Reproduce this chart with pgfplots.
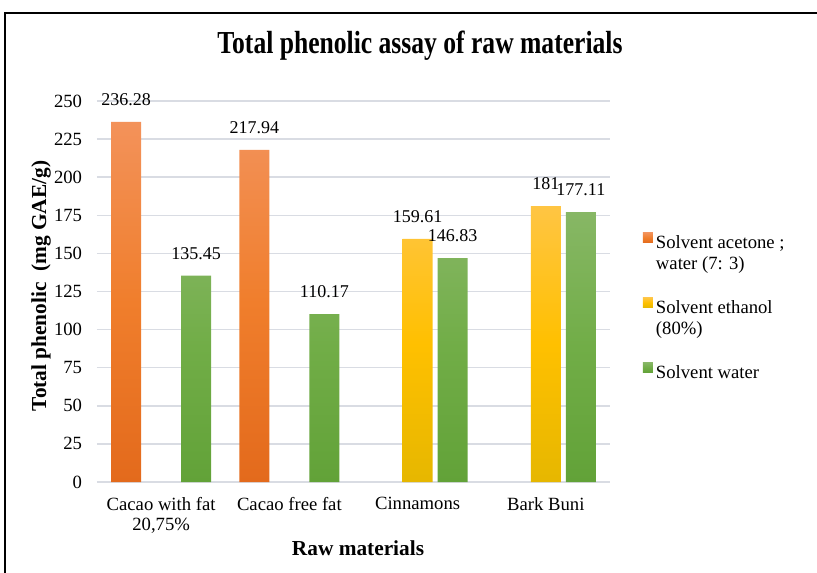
\documentclass[border=0pt]{standalone}
\usepackage{pgfplots}
\pgfplotsset{compat=1.18}
\usepackage{fontspec}
\setmainfont{Liberation Serif}
\newfontfamily\titlefont[FakeStretch=0.8]{Liberation Serif}
\definecolor{gridc}{HTML}{D9DCE3}
\definecolor{oTop}{HTML}{F3925A}
\definecolor{oMid}{HTML}{F07E2C}
\definecolor{oBot}{HTML}{E36A1C}
\definecolor{yTop}{HTML}{FFC543}
\definecolor{yMid}{HTML}{FFC000}
\definecolor{yBot}{HTML}{E6B700}
\definecolor{gTop}{HTML}{87B765}
\definecolor{gMid}{HTML}{71AD47}
\definecolor{gBot}{HTML}{62A238}
\begin{document}
\begin{tikzpicture}[x=1pt,y=1pt]
\useasboundingbox (-72.75,-67.5) rectangle (540,361.5);
\draw[line width=1.6pt] (-69,-120) rectangle (620,351.75);
\begin{axis}[
  at={(0,0)}, anchor=south west,
  width=384.75pt, height=285.75pt, scale only axis,
  xmin=-0.5, xmax=3.5, ymin=0, ymax=250,
  ytick={0,25,...,250},
  xtick={0,1,2,3},
  xticklabels={{Cacao with fat\\20,75\%}, {Cacao free fat}, {Cinnamons}, {Bark Buni}},
  xticklabel style={align=center, font=\fontsize{14}{15}\selectfont, anchor=north, inner sep=0pt, yshift=-11.5pt},
  yticklabel style={font=\fontsize{14}{16.5}\selectfont, anchor=east, inner sep=0pt, xshift=-11pt},
  ymajorgrids, grid style={gridc, line width=1.1pt},
  axis line style={draw=none},
  major tick length=0pt,
  /pgf/number format/assume math mode=true,
  bar width=22.5pt,
  nodes near coords,
  nodes near coords style={font=\fontsize{13.5}{16.5}\selectfont, anchor=south, inner sep=0pt, yshift=12pt, text=black},
  title={\titlefont\bfseries\fontsize{24}{28}\selectfont Total phenolic assay of raw materials},
  title style={at={(axis description cs:0.6296,1.1024)}, anchor=base, inner sep=0pt},
  xlabel={\bfseries Raw materials},
  xlabel style={font=\fontsize{16}{19}\selectfont, at={(axis description cs:0.5088,-0.1916)}, anchor=base, inner sep=0pt},
  ylabel={\bfseries Total phenolic\ \ (mg GAE/g)},
  ylabel style={font=\fontsize{16}{19}\selectfont, at={(axis description cs:-0.1092,0.5144)}, anchor=center, inner sep=0pt},
  legend style={draw=none, fill=none, inner sep=0pt, outer sep=0pt,
    at={(axis description cs:1.0643,0.6543)}, anchor=north west,
    font=\fontsize{14}{16.5}\selectfont, row sep=2.65pt, column sep=2.25pt,
    nodes={inner sep=0pt, text height=10pt, text depth=3pt},
    cells={anchor=base west}},
  legend cell align=left,
  legend image code/.code={\draw[#1,draw=none] (0pt,0.75pt) rectangle (7.5pt,8.25pt);},
]
\addplot[ybar, bar shift=-26.25pt, draw=none, top color=oTop, bottom color=oBot, middle color=oMid,
  every node near coord/.append style={xshift=-26.25pt}]
  coordinates {(0,236.28) (1,217.94)};
\addlegendentry{Solvent acetone ;}
\addlegendimage{empty legend}
\addlegendentry{water (7: 3)}
\addlegendimage{empty legend}
\addlegendentry{\mbox{}}
\addplot[ybar, bar shift=0pt, draw=none, top color=yTop, bottom color=yBot, middle color=yMid]
  coordinates {(2,159.61) (3,181)};
\addlegendentry{Solvent ethanol}
\addlegendimage{empty legend}
\addlegendentry{(80\%)}
\addlegendimage{empty legend}
\addlegendentry{\mbox{}}
\addplot[ybar, bar shift=26.25pt, draw=none, top color=gTop, bottom color=gBot, middle color=gMid,
  every node near coord/.append style={xshift=26.25pt}]
  coordinates {(0,135.45) (1,110.17) (2,146.83) (3,177.11)};
\addlegendentry{Solvent water}
\end{axis}
\end{tikzpicture}
\end{document}
